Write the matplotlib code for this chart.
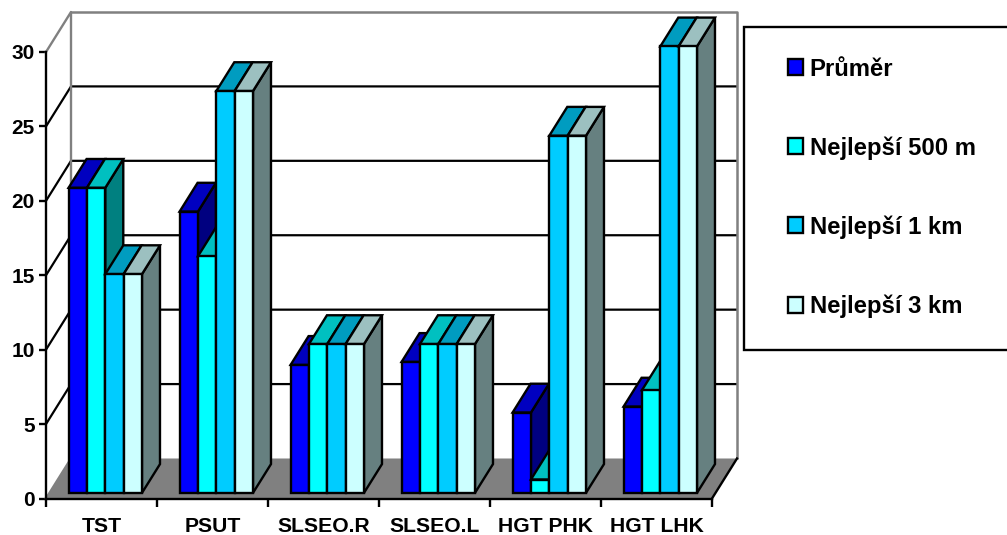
import matplotlib
matplotlib.use("Agg")
import matplotlib.pyplot as plt
from matplotlib.patches import Patch, Polygon, Rectangle

plt.rcParams["font.family"] = ["Liberation Sans", "DejaVu Sans"]
plt.rcParams["font.weight"] = "bold"

# Data
categories = ["TST", "PSUT", "SLSEO.R", "SLSEO.L", "HGT PHK", "HGT LHK"]
prumer = [20.5, 18.9, 8.6, 8.8, 5.4, 5.8]
best_500m = [20.5, 15.9, 10, 10, 0.9, 6.9]
best_1km = [14.7, 27, 10, 10, 24, 30]
best_3km = [14.7, 27, 10, 10, 24, 30]
series_names = ["Průměr", "Nejlepší 500 m", "Nejlepší 1 km", "Nejlepší 3 km"]

# front, top, side colour of each series
front_colors = ["#0000FF", "#00FFFF", "#00CCFF", "#CCFFFF"]
top_colors = ["#0000C0", "#00C0C0", "#009CC0", "#9CC0C0"]
side_colors = ["#000080", "#008080", "#006680", "#668080"]

W, H = 1007, 535
fig = plt.figure(figsize=(W / 100, H / 100), dpi=100)
ax = fig.add_axes([46 / W, (H - 498.5) / H, 666 / W, 446.5 / H])
ax.set_xlim(0, 6)
ax.set_ylim(0, 30)

# oblique depth of the fake 3D box, in data units
depth_x = 25 / 111
depth_y = 40 / 14.88
bar_width = 0.1653
group_pad = 0.172
depth_start = 0.14
depth_end = 0.86


def proj(x, v, d):
    return (x + d * depth_x, v + d * depth_y)


def face(points, color, z, lw=1.7):
    ax.add_patch(Polygon(points, closed=True, facecolor=color, edgecolor="black",
                         linewidth=lw, joinstyle="miter", clip_on=False, zorder=z))


# walls and floor
ax.add_patch(Polygon([proj(0, 0, 0), proj(6, 0, 0), proj(6, 0, 1), proj(0, 0, 1)], closed=True,
                     facecolor="#808080", edgecolor="none", clip_on=False, zorder=1))
for v in [5, 10, 15, 20, 25]:
    ax.plot(*zip(proj(0, v, 0), proj(0, v, 1), proj(6, v, 1)), color="black", lw=1.6,
            clip_on=False, zorder=2, solid_capstyle="butt")
ax.plot(*zip(proj(0, 0, 0), proj(0, 0, 1), proj(0, 30, 1), proj(0, 30, 0)), color="#808080", lw=1.7,
        clip_on=False, zorder=2)
ax.plot(*zip(proj(0, 30, 1), proj(6, 30, 1), proj(6, 0, 1)), color="#808080", lw=1.8,
        clip_on=False, zorder=2)
ax.plot(*zip(proj(6, 0, 0), proj(6, 0, 1)), color="black", lw=1.7, clip_on=False, zorder=3)

# bars, left to right so each one hides the side of the previous
series = [prumer, best_500m, best_1km, best_3km]
z = 4
for i in range(len(categories)):
    for s, values in enumerate(series):
        x0 = i + group_pad + s * bar_width
        x1 = x0 + bar_width
        v = values[i]
        face([proj(x1, 0, depth_start), proj(x1, 0, depth_end), proj(x1, v, depth_end), proj(x1, v, depth_start)],
             side_colors[s], z)
        face([proj(x0, v, depth_start), proj(x1, v, depth_start), proj(x1, v, depth_end), proj(x0, v, depth_end)],
             top_colors[s], z)
        face([proj(x0, 0, depth_start), proj(x1, 0, depth_start), proj(x1, v, depth_start), proj(x0, v, depth_start)],
             front_colors[s], z)
        z += 1

# axes
for name in ["top", "right"]:
    ax.spines[name].set_visible(False)
for name in ["left", "bottom"]:
    ax.spines[name].set_linewidth(1.7)
    ax.spines[name].set_zorder(3)
ax.patch.set_visible(False)
ax.set_yticks(range(0, 31, 5))
ax.set_xticks(range(7))
ax.set_xticklabels([])
ax.set_xticks([i + 0.5 for i in range(6)], labels=categories, minor=True)
ax.tick_params(axis="y", length=5, width=1.7, labelsize=15, pad=3)
ax.tick_params(axis="x", which="major", length=6, width=1.7)
ax.tick_params(axis="x", which="minor", length=0, labelsize=15.2, pad=13.5)

# legend box runs off the right edge
fig.add_artist(Rectangle((744 / W, (H - 350) / H), 300 / W, 323 / H, transform=fig.transFigure,
                         facecolor="white", edgecolor="black", linewidth=1.7))
handles = [Patch(facecolor=c, edgecolor="black", linewidth=1.7) for c in front_colors]
fig.legend(handles, series_names, loc="upper left", bbox_to_anchor=(787.5 / W, (H - 57.5) / H), frameon=False,
           fontsize=17.2, borderpad=0, borderaxespad=0, handlelength=0.66, handleheight=0.66,
           handletextpad=0.27, labelspacing=2.33)

fig.savefig("out.png", dpi=100, facecolor="white")
